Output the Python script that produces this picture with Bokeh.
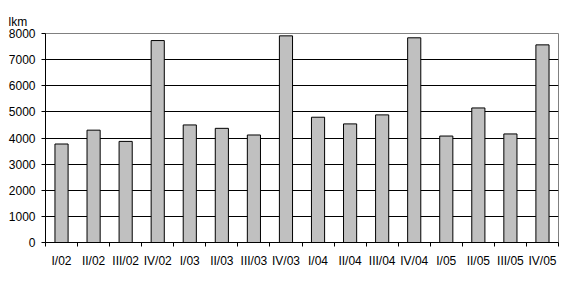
from bokeh.plotting import figure
from bokeh.models import FixedTicker, Range1d, Title, ColumnDataSource
from bokeh.embed import file_html
from bokeh.resources import INLINE

categories = ["I/02", "II/02", "III/02", "IV/02",
              "I/03", "II/03", "III/03", "IV/03",
              "I/04", "II/04", "III/04", "IV/04",
              "I/05", "II/05", "III/05", "IV/05"]
values = [3770, 4300, 3870, 7730,
          4500, 4370, 4115, 7910,
          4795, 4540, 4885, 7835,
          4075, 5150, 4155, 7565]
y_ticks = [0, 1000, 2000, 3000, 4000, 5000, 6000, 7000, 8000]
unit_label = "lkm"

n = len(categories)
xpos = [i + 0.5 for i in range(n)]
src = ColumnDataSource(dict(x=xpos, top=values, cat=categories))

FONT = "Liberation Sans"
FS = "12px"

p = figure(width=564, height=281, output_backend="svg", toolbar_location=None,
           x_range=Range1d(0, n), y_range=Range1d(0, 8000),
           min_border_left=45, min_border_right=6, min_border_top=33,
           min_border_bottom=39)
p.background_fill_color = "white"
p.border_fill_color = "white"
p.outline_line_color = "#808080"
p.outline_line_width = 1

p.vbar(x="x", top="top", width=0.41, bottom=0, source=src,
       fill_color="#c0c0c0", line_color="black", line_width=1)

# y axis
p.yaxis.ticker = FixedTicker(ticks=y_ticks)
p.yaxis.major_tick_out = 4
p.yaxis.major_tick_in = 0
p.yaxis.minor_tick_out = 0
p.yaxis.minor_tick_in = 0
p.yaxis.axis_line_color = "black"
p.yaxis.major_tick_line_color = "black"
p.yaxis.major_label_text_font = FONT
p.yaxis.major_label_text_font_size = FS
p.yaxis.major_label_text_color = "black"
p.yaxis.major_label_standoff = 6

# x axis: labels at centers, ticks at category boundaries
p.xaxis.ticker = FixedTicker(ticks=xpos, minor_ticks=list(range(n + 1)))
p.xaxis.major_label_overrides = {x: c for x, c in zip(xpos, categories)}
p.xaxis.major_tick_out = 0
p.xaxis.major_tick_in = 0
p.xaxis.minor_tick_out = 4
p.xaxis.minor_tick_in = 0
p.xaxis.minor_tick_line_color = "black"
p.xaxis.axis_line_color = "black"
p.xaxis.major_label_text_font = FONT
p.xaxis.major_label_text_font_size = FS
p.xaxis.major_label_text_color = "black"
p.xaxis.major_label_standoff = 7

p.xgrid.visible = False
p.ygrid.ticker = FixedTicker(ticks=y_ticks[1:-1])
p.ygrid.grid_line_color = "black"
p.ygrid.grid_line_width = 1

p.add_layout(Title(text=unit_label, align="left", offset=-37, standoff=9,
                   text_font=FONT, text_font_size=FS, text_font_style="normal",
                   text_color="black"), "above")

open("out.html", "w").write(file_html(p, INLINE))
